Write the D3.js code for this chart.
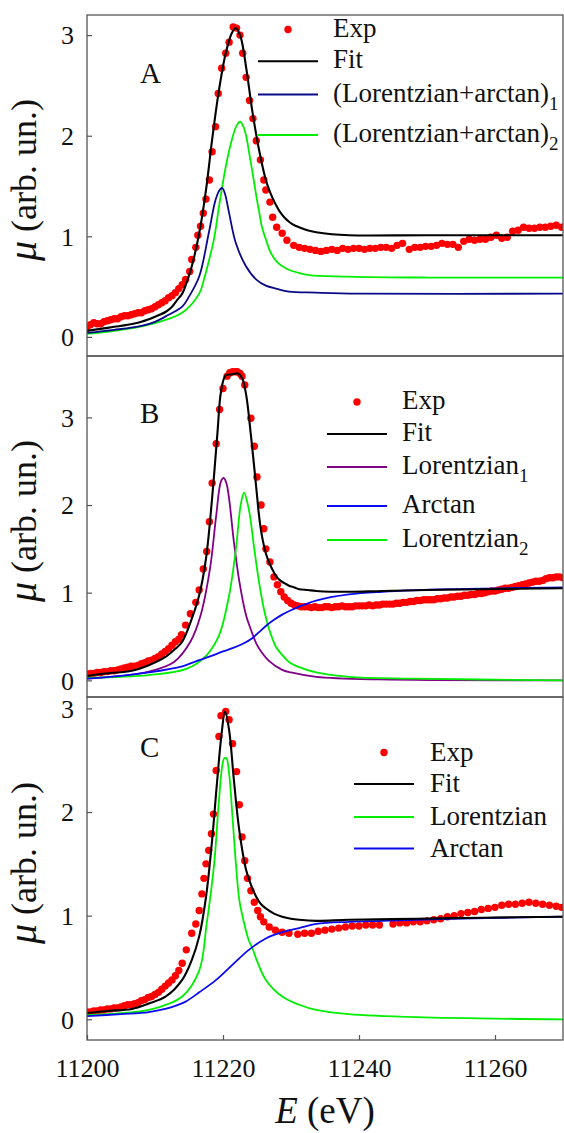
<!DOCTYPE html>
<html>
<head>
<meta charset="utf-8">
<script src="https://cdn.jsdelivr.net/npm/d3@7"></script>
<style>
  html, body { margin: 0; padding: 0; background: #fff; }
  svg { display: block; font-family: "Liberation Serif", "Times New Roman", serif; }
</style>
</head>
<body>
<svg id="chart" width="564" height="1133"></svg>
<script>
// ---------------- data: [E (eV), mu (arb. un.)] ----------------
const xTicks = [11200, 11220, 11240, 11260];
const yTicks = [0, 1, 2, 3];

// Panel A
const expA = [
  [11200,0.10],[11200.5,0.12],[11201,0.14],[11201.5,0.13],[11202,0.13],[11202.5,0.15],[11203,0.16],[11203.5,0.17],
  [11204,0.18],[11204.5,0.18],[11205,0.20],[11205.5,0.21],[11206,0.21],[11206.5,0.22],[11207,0.23],[11207.5,0.24],
  [11208,0.24],[11208.5,0.26],[11209,0.27],[11209.5,0.28],[11210,0.30],[11210.5,0.32],[11211,0.34],[11211.5,0.36],
  [11212,0.39],[11212.5,0.41],[11213,0.44],[11213.5,0.48],[11214,0.52],[11214.5,0.57],[11215.1,0.65],[11215.4,0.77],
  [11216.0,0.89],[11216.3,1.01],[11216.7,1.10],[11217.1,1.23],[11217.5,1.37],[11218.0,1.56],[11218.4,1.84],[11218.9,2.09],
  [11219.3,2.42],[11219.8,2.67],[11220.4,2.82],[11220.9,2.93],[11221.5,3.08],[11222.0,3.07],[11222.5,3.00],[11222.9,2.82],
  [11223.4,2.58],[11223.9,2.35],[11224.4,2.17],[11224.9,1.95],[11225.5,1.76],[11226.0,1.56],[11226.3,1.46],[11226.9,1.34],
  [11227.3,1.19],[11227.9,1.09],[11228.7,1.03],[11229.4,0.96],[11230.4,0.91],[11231.2,0.89],[11232.0,0.88],[11232.8,0.87],
  [11233.6,0.86],[11234.4,0.85],[11235.2,0.86],[11236.0,0.87],[11236.8,0.86],[11237.6,0.88],[11238.4,0.87],[11239.2,0.88],
  [11240.0,0.88],[11240.8,0.87],[11241.6,0.88],[11242.4,0.88],[11243.2,0.89],[11244.0,0.89],[11244.8,0.88],[11245.6,0.91],
  [11246.4,0.93],[11247.4,0.87],[11248.2,0.89],[11249.0,0.89],[11249.8,0.90],[11250.6,0.90],[11251.4,0.91],[11252.2,0.93],
  [11253.0,0.92],[11253.8,0.92],[11254.6,0.89],[11255.4,0.95],[11256.2,0.97],[11257.0,0.96],[11257.8,0.97],[11258.6,0.97],
  [11259.4,0.99],[11260.2,1.01],[11261.0,0.98],[11261.8,0.99],[11262.6,1.05],[11263.4,1.06],[11264.2,1.09],[11265.0,1.08],
  [11265.8,1.08],[11266.6,1.09],[11267.4,1.09],[11268.2,1.10],[11269.0,1.11],[11269.8,1.09]
];
const fitA = [
  [11200,0.06],[11202,0.08],[11204,0.10],[11206,0.12],[11208,0.15],[11210,0.20],[11211.6,0.25],[11212.5,0.30],
  [11213.3,0.37],[11214,0.43],[11214.7,0.55],[11215.4,0.70],[11216.5,1.03],[11217.5,1.46],[11218.4,1.96],[11219.4,2.45],
  [11220.4,2.82],[11221.3,3.02],[11221.9,3.07],[11222.6,2.98],[11223.4,2.68],[11224.3,2.25],[11225.3,1.86],[11226.3,1.56],
  [11226.8,1.46],[11227.3,1.38],[11227.8,1.31],[11228.3,1.25],[11229.0,1.19],[11229.8,1.14],[11230.5,1.11],[11231.2,1.09],
  [11232.4,1.06],[11233.7,1.04],[11236,1.02],[11238.5,1.01],[11250,1.01],[11270,1.01]
];
const lorArc1A = [
  [11200,0.04],[11204,0.07],[11208,0.11],[11210,0.15],[11212,0.22],[11214,0.30],[11215,0.40],[11216.5,0.60],
  [11217.9,1.03],[11218.9,1.36],[11219.5,1.46],[11219.9,1.48],[11220.3,1.42],[11220.9,1.23],[11221.9,0.93],[11223.4,0.70],
  [11224.9,0.57],[11226.3,0.51],[11227.8,0.48],[11229.7,0.45],[11233.7,0.44],[11240,0.43],[11270,0.43]
];
const lorArc2A = [
  [11200,0.03],[11204,0.06],[11209,0.12],[11214,0.24],[11216.5,0.43],[11217.2,0.57],[11217.9,0.75],[11218.7,0.98],
  [11219.4,1.29],[11220.4,1.69],[11221.3,1.96],[11222.0,2.10],[11222.5,2.14],[11223.0,2.09],[11223.4,2.00],[11223.8,1.85],
  [11224.3,1.65],[11224.9,1.40],[11225.3,1.25],[11225.7,1.10],[11226.3,0.97],[11227.0,0.84],[11228.0,0.74],[11229.3,0.68],
  [11232.2,0.62],[11238.5,0.60],[11250,0.59],[11270,0.59]
];

// Panel B
const expB = [
  [11200,0.07],[11200.5,0.08],[11201,0.08],[11201.5,0.09],[11202,0.09],[11202.5,0.10],[11203,0.10],[11203.5,0.11],
  [11204,0.11],[11204.5,0.12],[11205,0.13],[11205.5,0.14],[11206,0.15],[11206.5,0.16],[11207,0.16],[11207.5,0.17],
  [11208,0.19],[11208.5,0.20],[11209,0.22],[11209.5,0.23],[11210,0.25],[11210.5,0.27],[11211,0.30],[11211.5,0.33],
  [11212,0.36],[11212.5,0.40],[11213,0.44],[11213.5,0.47],[11213.9,0.52],[11214.5,0.63],[11215.2,0.76],[11216.0,0.89],
  [11216.5,1.03],[11217.1,1.27],[11217.6,1.47],[11218.0,1.81],[11218.4,2.25],[11219.0,2.70],[11219.5,3.09],[11220.0,3.33],
  [11220.6,3.47],[11221.0,3.51],[11221.4,3.52],[11221.8,3.52],[11222.1,3.52],[11222.5,3.50],[11222.8,3.47],[11223.2,3.37],
  [11224.1,2.99],[11224.6,2.67],[11225.0,2.32],[11225.6,2.00],[11226.0,1.73],[11226.3,1.50],[11226.9,1.35],[11227.5,1.18],
  [11228.0,1.09],[11228.5,1.01],[11229.0,0.95],[11229.5,0.91],[11230.0,0.88],[11230.5,0.86],[11231.0,0.85],[11231.5,0.84],
  [11232,0.84],[11232.5,0.84],[11233,0.83],[11233.5,0.84],[11234,0.83],[11234.5,0.83],[11235,0.84],[11235.5,0.84],
  [11236,0.83],[11236.5,0.84],[11237,0.84],[11237.5,0.85],[11238,0.84],[11238.5,0.84],[11239,0.84],[11239.5,0.85],
  [11240,0.85],[11240.5,0.85],[11241,0.85],[11241.5,0.86],[11242,0.85],[11242.5,0.86],[11243,0.86],[11243.5,0.87],
  [11244,0.87],[11244.5,0.87],[11245,0.87],[11245.5,0.88],[11246,0.88],[11246.5,0.89],[11247,0.89],[11247.5,0.90],
  [11248,0.90],[11248.5,0.91],[11249,0.91],[11249.5,0.92],[11250,0.92],[11250.5,0.92],[11251,0.92],[11251.5,0.93],
  [11252,0.93],[11252.5,0.94],[11253,0.94],[11253.5,0.95],[11254,0.95],[11254.5,0.96],[11255,0.96],[11255.5,0.97],
  [11256,0.97],[11256.5,0.98],[11257,0.98],[11257.5,0.99],[11258,0.99],[11258.5,1.00],[11259,1.01],[11259.5,1.02],
  [11260,1.02],[11260.5,1.03],[11261,1.04],[11261.5,1.05],[11262,1.05],[11262.5,1.06],[11263,1.07],[11263.5,1.08],
  [11264,1.09],[11264.5,1.10],[11265,1.11],[11265.5,1.12],[11266,1.13],[11266.5,1.13],[11267,1.14],[11267.5,1.16],
  [11268,1.17],[11268.5,1.17],[11269,1.18],[11269.5,1.18],[11270,1.17]
];
const fitB = [
  [11200,0.05],[11203,0.08],[11206.6,0.11],[11209,0.17],[11211.6,0.27],[11213,0.36],[11214,0.44],[11215.4,0.70],
  [11216.5,0.97],[11217.5,1.39],[11218.4,2.08],[11219.2,2.84],[11219.7,3.29],[11220.4,3.48],[11221.3,3.49],[11222.2,3.50],
  [11222.8,3.45],[11223.4,3.26],[11224.1,2.80],[11224.9,2.19],[11225.3,1.88],[11225.7,1.66],[11226.3,1.45],[11226.8,1.34],
  [11227.3,1.26],[11227.8,1.19],[11228.4,1.14],[11229.0,1.11],[11229.7,1.08],[11230.5,1.06],[11231.2,1.04],[11232.5,1.03],
  [11233.7,1.02],[11238.5,1.01],[11243.4,1.02],[11250,1.03],[11258.1,1.04],[11270,1.05]
];
const lor1B = [
  [11200,0.02],[11205,0.05],[11209.1,0.10],[11212.8,0.21],[11215.2,0.44],[11216.7,0.74],[11218.1,1.28],[11219.0,1.88],
  [11219.7,2.27],[11220.1,2.31],[11220.5,2.25],[11220.9,2.07],[11221.6,1.58],[11222.4,1.13],[11223.4,0.74],[11224.0,0.60],
  [11224.9,0.42],[11225.6,0.33],[11226.8,0.22],[11228.7,0.12],[11230,0.09],[11233.7,0.04],[11243,0.01],[11270,0.0]
];
const arctanB = [
  [11200,0.02],[11205,0.05],[11209.1,0.09],[11214,0.16],[11216.5,0.23],[11218,0.27],[11220,0.33],[11221.5,0.37],
  [11223,0.42],[11224.3,0.48],[11225.3,0.55],[11226.3,0.62],[11227.5,0.69],[11228.7,0.75],[11230,0.80],[11231.2,0.84],
  [11233.7,0.91],[11238.5,0.98],[11243.4,1.01],[11253.2,1.04],[11270,1.06]
];
const lor2B = [
  [11200,0.03],[11209.1,0.06],[11214.6,0.13],[11217.5,0.28],[11219.4,0.51],[11220.9,0.97],[11221.9,1.50],[11222.6,2.00],
  [11223.1,2.14],[11223.8,1.95],[11224.6,1.50],[11225.3,1.12],[11226.0,0.82],[11226.8,0.58],[11227.8,0.38],[11228.7,0.29],
  [11229.7,0.21],[11231.2,0.15],[11233.7,0.09],[11238.5,0.04],[11248,0.02],[11270,0.0]
];

// Panel C
const expC = [
  [11200,0.07],[11200.5,0.07],[11201,0.08],[11201.5,0.08],[11202,0.09],[11202.5,0.09],[11203,0.10],[11203.5,0.10],
  [11204,0.11],[11204.5,0.11],[11205,0.12],[11205.5,0.13],[11206,0.14],[11206.5,0.14],[11207,0.15],[11207.5,0.16],
  [11208,0.18],[11208.5,0.19],[11209,0.21],[11209.5,0.22],[11210,0.24],[11210.5,0.26],[11211,0.29],[11211.5,0.32],
  [11212,0.35],[11212.5,0.38],[11213,0.42],[11213.5,0.47],[11214,0.54],[11214.6,0.67],[11215.4,0.83],[11216.0,0.92],
  [11216.5,1.05],[11216.9,1.21],[11217.2,1.36],[11217.5,1.50],[11217.9,1.63],[11218.3,1.79],[11218.6,1.98],[11219.0,2.40],
  [11219.4,2.73],[11219.7,2.93],[11220.4,2.97],[11220.9,2.89],[11221.4,2.66],[11222.0,2.39],[11222.4,2.07],[11222.8,1.76],
  [11223.2,1.53],[11223.6,1.36],[11224.1,1.24],[11224.6,1.13],[11225.1,1.05],[11225.5,0.99],[11226.0,0.94],[11226.8,0.89],
  [11227.7,0.86],[11228.7,0.84],[11229.7,0.83],[11231.0,0.82],[11232,0.83],[11233,0.83],[11234,0.85],[11235,0.86],
  [11236,0.87],[11237,0.88],[11238,0.89],[11239,0.90],[11240,0.90],[11241,0.91],[11242,0.91],[11243,0.91],
  [11245,0.92],[11246,0.93],[11247,0.93],[11248,0.94],[11249,0.94],[11250,0.95],[11251,0.96],[11252,0.97],
  [11253,0.99],[11254,1.00],[11255,1.02],[11256,1.03],[11257,1.04],[11258,1.06],[11259,1.07],[11260,1.08],
  [11261,1.10],[11262,1.11],[11263,1.11],[11264,1.12],[11265,1.13],[11266,1.12],[11267,1.11],[11268,1.10],
  [11269,1.09],[11269.8,1.08]
];
const fitC = [
  [11200,0.06],[11203,0.08],[11206.6,0.10],[11209,0.15],[11211.6,0.22],[11214,0.38],[11215.4,0.57],[11216.5,0.80],
  [11217.5,1.18],[11218.4,1.73],[11219.1,2.27],[11219.8,2.76],[11220.3,2.97],[11220.9,2.79],[11221.6,2.31],[11222.4,1.82],
  [11223.4,1.44],[11224.1,1.30],[11224.9,1.18],[11225.6,1.11],[11226.3,1.07],[11227.5,1.02],[11228.7,0.99],[11230,0.97],
  [11231.2,0.96],[11233.7,0.95],[11238.5,0.96],[11248.4,0.97],[11258.1,0.98],[11270,0.99]
];
const lorC = [
  [11200,0.04],[11205,0.06],[11209.1,0.09],[11214,0.22],[11216.5,0.47],[11217.6,0.92],[11218.7,1.50],[11219.4,2.11],
  [11219.9,2.45],[11220.2,2.52],[11220.5,2.52],[11220.9,2.37],[11221.4,1.95],[11221.9,1.50],[11222.4,1.15],[11223.1,0.93],
  [11223.8,0.76],[11224.3,0.69],[11224.9,0.58],[11226.3,0.38],[11228.7,0.22],[11231.2,0.14],[11233.7,0.09],[11238.5,0.05],
  [11248.4,0.02],[11270,0.0]
];
const arctanC = [
  [11200,0.03],[11205,0.05],[11209.1,0.07],[11211.5,0.10],[11213,0.13],[11214.5,0.17],[11216.5,0.26],[11219.0,0.38],
  [11221.3,0.52],[11223.8,0.67],[11226.3,0.78],[11228.7,0.84],[11231.2,0.88],[11233.7,0.92],[11238.5,0.94],[11243.4,0.95],
  [11253.2,0.97],[11270,0.99]
];

// ---------------- colours ----------------
const RED = "#ff0000", BLACK = "#000000", NAVY = "#0a0a88", GREEN = "#00ee00",
      PURPLE = "#800088", BLUE = "#0a0af0", FRAME = "#555555";

// ---------------- layout ----------------
const svg = d3.select("#chart");
const left = 87, right = 563;
const x = d3.scaleLinear().domain([11200, 11270]).range([left, right]);

const panels = [
  {
    letter: "A", top: 15, bottom: 356, yDomain: [-0.19, 3.2], letterY: 83, titleY: 180,
    exp: expA,
    curves: [
      { data: lorArc2A, color: GREEN, width: 1.8 },
      { data: lorArc1A, color: NAVY, width: 1.8 },
      { data: fitA, color: BLACK, width: 2.1 }
    ],
    legend: {
      lineX0: 258, lineX1: 318, textX: 333, dy: 7,
      items: [
        { kind: "dot", color: RED, label: "Exp", base: 36.5 },
        { kind: "line", color: BLACK, label: "Fit", base: 68.3 },
        { kind: "line", color: NAVY, label: "(Lorentzian+arctan)", sub: "1", base: 101.5 },
        { kind: "line", color: GREEN, label: "(Lorentzian+arctan)", sub: "2", base: 142 }
      ]
    }
  },
  {
    letter: "B", top: 356, bottom: 697, yDomain: [-0.19, 3.7], letterY: 423, titleY: 521,
    exp: expB,
    curves: [
      { data: lor1B, color: PURPLE, width: 1.8 },
      { data: lor2B, color: GREEN, width: 1.8 },
      { data: arctanB, color: BLUE, width: 1.8 },
      { data: fitB, color: BLACK, width: 2.1 }
    ],
    legend: {
      lineX0: 327, lineX1: 387, textX: 402, dy: 7,
      items: [
        { kind: "dot", color: RED, label: "Exp", base: 409 },
        { kind: "line", color: BLACK, label: "Fit", base: 441 },
        { kind: "line", color: PURPLE, label: "Lorentzian", sub: "1", base: 474 },
        { kind: "line", color: BLUE, label: "Arctan", base: 513 },
        { kind: "line", color: GREEN, label: "Lorentzian", sub: "2", base: 547 }
      ]
    }
  },
  {
    letter: "C", top: 697, bottom: 1040, yDomain: [-0.2, 3.11], letterY: 757, titleY: 863,
    exp: expC,
    curves: [
      { data: lorC, color: GREEN, width: 1.8 },
      { data: arctanC, color: BLUE, width: 1.8 },
      { data: fitC, color: BLACK, width: 2.1 }
    ],
    legend: {
      lineX0: 354, lineX1: 414, textX: 430, dy: 8,
      items: [
        { kind: "dot", color: RED, label: "Exp", base: 760.5 },
        { kind: "line", color: BLACK, label: "Fit", base: 792 },
        { kind: "line", color: GREEN, label: "Lorentzian", base: 825 },
        { kind: "line", color: BLUE, label: "Arctan", base: 856.5 }
      ]
    }
  }
];

const SERIF = "'Liberation Serif', 'Times New Roman', serif";

panels.forEach((p, i) => {
  const y = d3.scaleLinear().domain(p.yDomain).range([p.bottom, p.top]);
  const g = svg.append("g");

  // clip so curves stay inside the frame
  const clipId = "clip" + i;
  svg.append("clipPath").attr("id", clipId)
    .append("rect").attr("x", left).attr("y", p.top)
    .attr("width", right - left).attr("height", p.bottom - p.top);

  const plot = g.append("g").attr("clip-path", `url(#${clipId})`);

  // experimental points
  plot.append("g").selectAll("circle").data(p.exp).join("circle")
    .attr("cx", d => x(d[0])).attr("cy", d => y(d[1]))
    .attr("r", 3.7).attr("fill", RED);

  // fitted components and total fit
  const line = d3.line().x(d => x(d[0])).y(d => y(d[1])).curve(d3.curveCatmullRom.alpha(0.5));
  p.curves.forEach(c => {
    plot.append("path").datum(c.data).attr("d", line)
      .attr("fill", "none").attr("stroke", c.color).attr("stroke-width", c.width)
      .attr("stroke-linejoin", "round");
  });

  // frame
  g.append("rect").attr("x", left).attr("y", p.top)
    .attr("width", right - left).attr("height", p.bottom - p.top)
    .attr("fill", "none").attr("stroke", FRAME).attr("stroke-width", 1.3);

  // y axis: inward ticks
  const yAxis = d3.axisLeft(y).tickValues(yTicks).tickSize(-5).tickPadding(13).tickFormat(d3.format("d"));
  const ya = g.append("g").attr("transform", `translate(${left},0)`).call(yAxis)
    .attr("font-family", SERIF);
  ya.select(".domain").remove();
  ya.selectAll(".tick line").attr("stroke", FRAME).attr("stroke-width", 1.2);
  ya.selectAll(".tick text").attr("font-size", 26).attr("fill", "#111").attr("dy", "0.34em");

  // panel letter
  g.append("text").attr("x", 140).attr("y", p.letterY)
    .attr("font-size", 29).attr("fill", "#111").text(p.letter);

  // y title
  const yt = g.append("text")
    .attr("transform", `translate(36,${p.titleY}) rotate(-90)`)
    .attr("text-anchor", "middle").attr("font-size", 36).attr("fill", "#111");
  yt.append("tspan").attr("font-style", "italic").attr("font-size", 40).text("μ");
  yt.append("tspan").text(" (arb. un.)");

  // legend
  const L = p.legend;
  const lg = g.append("g");
  L.items.forEach(it => {
    const cy = it.base - L.dy;
    if (it.kind === "dot") {
      lg.append("circle").attr("cx", (L.lineX0 + L.lineX1) / 2).attr("cy", cy)
        .attr("r", 3.7).attr("fill", it.color);
    } else {
      lg.append("line").attr("x1", L.lineX0).attr("x2", L.lineX1)
        .attr("y1", cy).attr("y2", cy)
        .attr("stroke", it.color).attr("stroke-width", it.color === BLACK ? 2.1 : 1.8);
    }
    const t = lg.append("text").attr("x", L.textX).attr("y", it.base)
      .attr("font-size", 27).attr("fill", "#111").text(it.label);
    if (it.sub) t.append("tspan").attr("font-size", 19).attr("dy", 8).text(it.sub);
  });

  // x axis on the bottom panel only
  if (i === panels.length - 1) {
    const xAxis = d3.axisBottom(x).tickValues(xTicks).tickSize(-5).tickPadding(0).tickFormat(d3.format("d"));
    const xa = g.append("g").attr("transform", `translate(0,${p.bottom})`).call(xAxis)
      .attr("font-family", SERIF);
    xa.select(".domain").remove();
    xa.selectAll(".tick line").attr("stroke", FRAME).attr("stroke-width", 1.2);
    xa.selectAll(".tick text").attr("font-size", 26).attr("fill", "#111").attr("dy", null).attr("y", 37);
  }
});

// x title
const xt = svg.append("text").attr("x", (left + right) / 2).attr("y", 1123)
  .attr("text-anchor", "middle").attr("font-size", 37).attr("fill", "#111");
xt.append("tspan").attr("font-style", "italic").text("E");
xt.append("tspan").text(" (eV)");
</script>
</body>
</html>
